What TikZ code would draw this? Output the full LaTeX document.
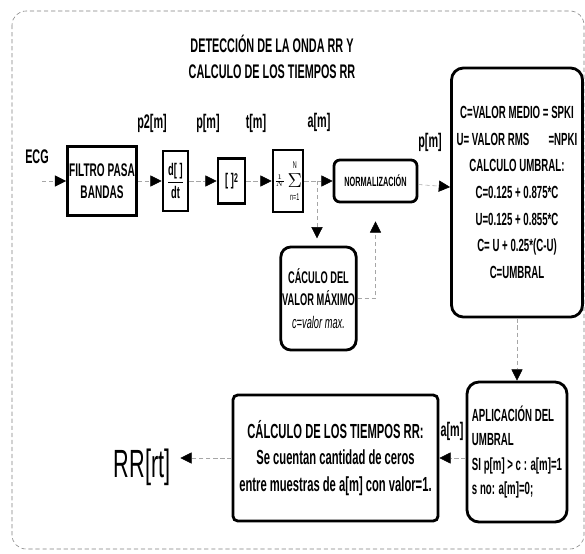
\documentclass[tikz,border=0pt]{standalone}
\usepackage{amsmath}
\usepackage{fontspec}
\setmainfont{Liberation Sans}[FakeStretch=0.55]
\usetikzlibrary{arrows.meta}

\tikzset{
  caja/.style={draw, line width=2pt, inner sep=1pt, align=center,
    font=\bfseries\fontsize{12}{16}\selectfont},
  cajar/.style={caja, rounded corners=#1},
  flecha/.style={draw=gray!70, densely dashed, -{Triangle[length=8pt,width=8pt,black]}},
  senal/.style={font=\bfseries\fontsize{14}{16}\selectfont},
}

\begin{document}
\begin{tikzpicture}[x=0.025cm, y=-0.025cm]
  % fix the page size
  \useasboundingbox (0,0) rectangle (585,553);
  % draw outer dashed frame
  \draw[gray, densely dashed, rounded corners=0.35cm] (12,11) rectangle (584,549);
  % title
  \node[font=\bfseries\fontsize{14}{18}\selectfont, align=center] (titulo) at (272,57)
    {DETECCIÓN DE LA ONDA RR Y\\CALCULO DE LOS TIEMPOS RR};
  % upper chain of blocks
  \node[senal] (ecg) at (37,157) {ECG};
  \coordinate (ecgin) at (42,181);
  \node[caja, minimum width=1.725cm, minimum height=1.725cm, font=\bfseries\fontsize{13}{16}\selectfont] (filtro) at (102,181) {FILTRO PASA\\BANDAS};
  \node[caja, minimum width=0.625cm, minimum height=1.5cm] (deriv) at (175.5,181) {$\dfrac{\text{d[\,]}}{\text{dt}}$};
  \node[caja, minimum width=0.675cm, minimum height=1.125cm] (cuad) at (231.5,181) {[\,]\raisebox{2pt}{\small 2}};
  \node[caja, minimum width=0.75cm, minimum height=1.55cm, inner sep=0pt, font=\fontsize{7}{8}\selectfont] (suma) at (288,181)
    {$\frac{1}{N}\,\vcenter{\hbox{\shortstack{N\\[1pt]{\fontsize{15}{15}\selectfont$\Sigma$}\\[1pt]n=1}}}$};
  \node[cajar=0.15cm, minimum width=2.075cm, minimum height=1.05cm, font=\bfseries\fontsize{9.5}{11}\selectfont] (norm) at (375.5,181) {NORMALIZACIÓN};
  \node[cajar=0.25cm, minimum width=1.825cm, minimum height=2.575cm] (maxv) at (318.5,298.5)
    {CÁCULO DEL\\VALOR MÁXIMO\\\mdseries\itshape c=valor max.};
  % threshold blocks
  \node[cajar=0.3cm, minimum width=3.275cm, minimum height=6.225cm, inner sep=0pt, font=\bfseries\fontsize{12.5}{19}\selectfont] (umbral) at (517,192.5)
    {C=VALOR MEDIO = SPKI\\U= VALOR RMS\hspace{1.1em}=NPKI\\CALCULO UMBRAL:\\C=0.125 + 0.875*C\\U=0.125 + 0.855*C\\C= U + 0.25*(C-U)\\C=UMBRAL};
  \node[cajar=0.3cm, minimum width=2.5cm, minimum height=3.5cm, align=left, font=\bfseries\fontsize{12.5}{17.5}\selectfont] (aplic) at (517,452)
    {APLICACIÓN DEL\\UMBRAL\\SI p[m] > c : a[m]=1\\s no: a[m]=0;};
  \node[cajar=0.12cm, minimum width=5.125cm, minimum height=3.15cm, font=\bfseries\fontsize{14.5}{19}\selectfont] (calc) at (335.5,458)
    {CÁLCULO DE LOS TIEMPOS RR:\\Se cuentan cantidad de ceros\\entre muestras de a[m] con valor=1.};
  \node[font=\fontsize{28}{30}\selectfont, inner xsep=7pt] (rr) at (142,467) {RR[rt]};
  % signal labels
  \node[senal] (lp2) at (152,123) {p2[m]};
  \node[senal] (lp) at (208,123) {p[m]};
  \node[senal] (lt) at (256,123) {t[m]};
  \node[senal] (la) at (319,122) {a[m]};
  \node[senal] (lpn) at (430,142) {p[m]};
  \node[senal] (lan) at (452,431) {a[m]};
  % draw connectors
  \draw[flecha] (ecgin) -- (filtro);
  \draw[flecha] (filtro) -- (deriv);
  \draw[flecha] (deriv) -- (cuad);
  \draw[flecha] (cuad) -- (suma);
  \draw[flecha] (suma) -- (norm);
  \coordinate (rama) at (317,181);
  \draw[flecha, shorten >=0.18cm] (rama) -- (rama |- maxv.north);
  \draw[flecha, shorten >=0.45cm] (maxv.east) -| (norm.south);
  \draw[flecha] (norm) -- (umbral);
  \draw[flecha] (umbral) -- (aplic);
  \draw[flecha] (aplic.west |- calc) -- (calc.east);
  \draw[flecha] (calc.west) -- (calc.west -| rr.east);
\end{tikzpicture}
\end{document}
